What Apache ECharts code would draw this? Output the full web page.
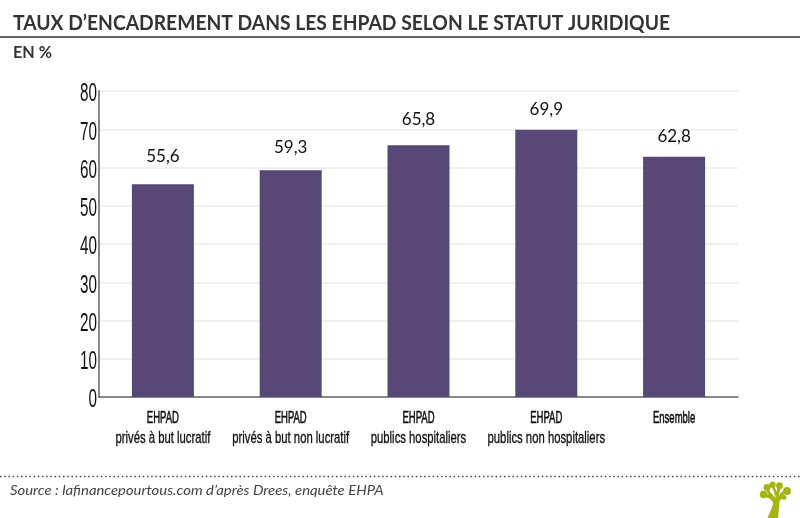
<!DOCTYPE html>
<html><head><meta charset="utf-8">
<style>html,body{margin:0;padding:0;background:#fff}#c{width:800px;height:518px}</style>
<script src="https://cdn.jsdelivr.net/npm/echarts@6/dist/echarts.min.js"></script>
</head><body><div id="c"></div>
<script>
const titleText = "TAUX D’ENCADREMENT DANS LES EHPAD SELON LE STATUT JURIDIQUE";
const unitText = "EN %";
const sourceText = "Source : lafinancepourtous.com d’après Drees, enquête EHPA";
const categories = ["EHPAD\nprivés à but lucratif","EHPAD\nprivés à but non lucratif","EHPAD\npublics hospitaliers","EHPAD\npublics non hospitaliers","Ensemble"];
const values = [55.6,59.3,65.8,69.9,62.8];
const yTicks = [0,10,20,30,40,50,60,70,80];
const labelGaps = [19,14,17,12,12];
const sans = '"Liberation Sans"';
const green = '#a4b50f';
const chart = echarts.init(document.getElementById('c'),null,{renderer:'canvas'});
const leaf = (x,y,r)=>({type:'circle',shape:{cx:x,cy:y,r},style:{fill:green}});
const branch = (pts,w)=>({type:'polyline',shape:{points:pts},style:{stroke:green,lineWidth:w,fill:'none'}});
chart.setOption({
  animation:false,
  backgroundColor:'#fff',
  grid:{left:99,right:62,top:91,bottom:121,containLabel:false},
  xAxis:{type:'category',data:categories,
    axisLine:{lineStyle:{color:'#666',width:1.5}},axisTick:{show:false},axisLabel:{show:false}},
  yAxis:{type:'value',min:0,max:80,interval:10,
    axisLine:{show:true,lineStyle:{color:'#888',width:2}},axisTick:{show:false},
    splitLine:{lineStyle:{color:'#ebebeb',width:1.5}},axisLabel:{show:false}},
  series:[{type:'bar',barWidth:62,itemStyle:{color:'#574878'},
    data:values.map((v,i)=>({value:v,label:{distance:labelGaps[i]}})),
    label:{show:true,position:'top',color:'#111',fontFamily:'"Lato","Open Sans"',fontSize:17,
      formatter:p=>String(p.value).replace('.',',')}}]
});
const tickTexts = yTicks.map(t=>({type:'text',x:97,y:chart.convertToPixel({yAxisIndex:0},t)+3.5,scaleX:0.61,
  style:{text:String(t),align:'right',verticalAlign:'middle',fontFamily:sans,fontSize:25,fill:'#111'}}));
const catTexts = categories.flatMap((c,i)=>{
  const x = chart.convertToPixel({xAxisIndex:0},i);
  return c.split('\n').map((line,j)=>({type:'text',x,y:418+j*20,scaleX:j===0?0.56:0.665,
    style:{text:line,align:'center',verticalAlign:'middle',fontFamily:sans,fontSize:17,fill:'#111',stroke:'#111',lineWidth:j===0?0.6:0.35}}));
});
chart.setOption({graphic:[
    {type:'text',x:13,y:23,scaleX:0.896,style:{text:titleText,verticalAlign:'middle',fontFamily:'"Lato"',fontWeight:'bold',fontSize:21.5,fill:'#333'}},
    {type:'rect',x:0,y:36,shape:{width:800,height:2},style:{fill:'#666'}},
    {type:'text',x:13,y:53,scaleX:0.95,style:{text:unitText,verticalAlign:'middle',fontFamily:'"Lato"',fontWeight:'bold',fontSize:17,fill:'#333'}},
    {type:'line',shape:{x1:0,y1:476.5,x2:800,y2:476.5},style:{stroke:'#444',lineWidth:1.5,lineDash:[1.5,2.7]}},
    {type:'text',x:10,y:490,scaleX:1.06,style:{text:sourceText,verticalAlign:'middle',fontFamily:'"Lato"',fontStyle:'italic',fontSize:14,fill:'#444'}},
    ...tickTexts,...catTexts,
    {type:'group',children:[
      {type:'polygon',shape:{points:[[767.5,518],[771,510],[774,501],[779,497],[779.5,503],[778,518]]},style:{fill:green}},
      branch([[775.5,503],[771,497.5],[763.5,494.5]],3),
      branch([[775.5,500],[769,493],[767,488]],3),
      branch([[777,498],[775,491],[772.5,485]],2.5),
      branch([[777,499],[778,492],[779.5,486]],3),
      branch([[777,502],[782,494],[787,491]],3.2),
      branch([[778,501],[781,498],[784,497.5]],2),
      leaf(763.5,494.5,3.7),leaf(767,487.5,3.4),leaf(772.5,484.7,3.2),leaf(779.5,485.7,3.4),leaf(787,491,3.9),leaf(784,497.5,2.4)
    ]}
]});
</script></body></html>
